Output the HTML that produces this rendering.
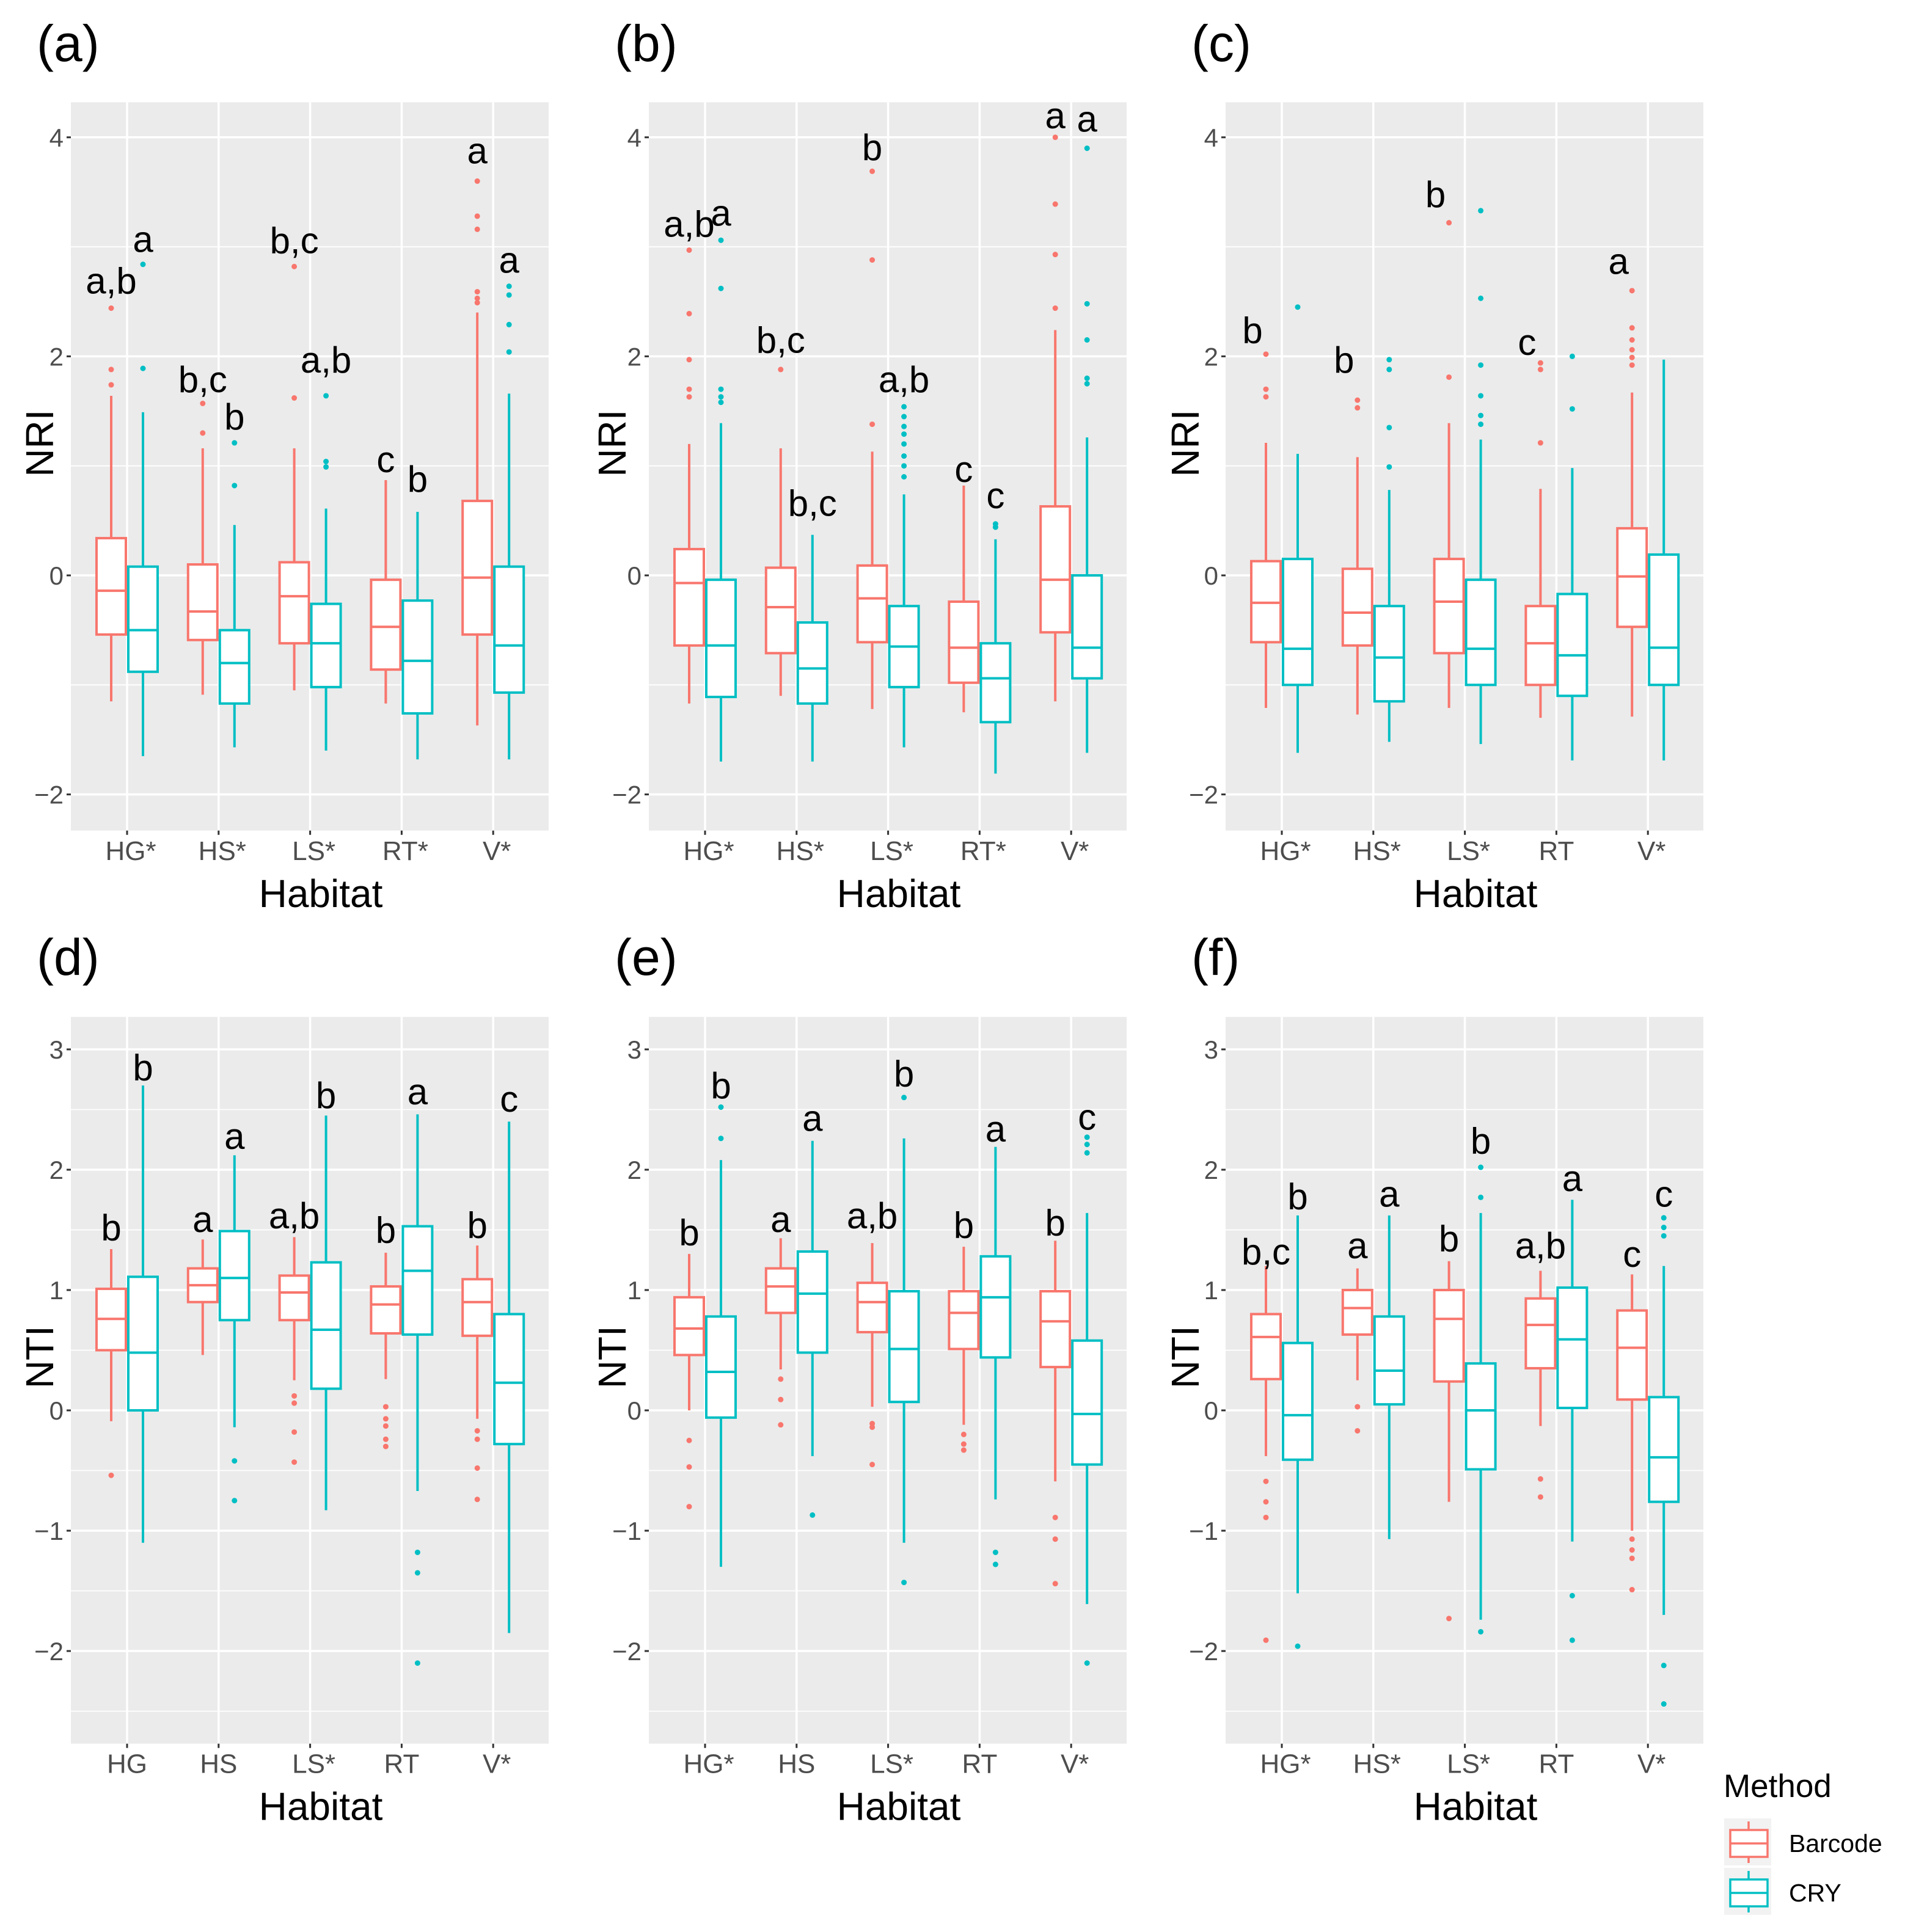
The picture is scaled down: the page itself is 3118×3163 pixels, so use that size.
<!DOCTYPE html>
<html><head><meta charset="utf-8"><style>
body{margin:0;background:#fff}
svg{display:block}
text{font-family:"Liberation Sans",Arial,sans-serif}
</style></head><body>
<svg id="fig" width="3118" height="3163" viewBox="0 0 3118 3163" xmlns="http://www.w3.org/2000/svg"></svg>
<script>
// ---------- data ----------
const catsA = ["HG*","HS*","LS*","RT*","V*"];
const catsB = ["HG*","HS*","LS*","RT*","V*"];
const catsC = ["HG*","HS*","LS*","RT","V*"];
const catsD = ["HG","HS","LS*","RT","V*"];
const catsE = ["HG*","HS","LS*","RT","V*"];
const catsF = ["HG*","HS*","LS*","RT","V*"];
const ticksTop = [-2,0,2,4];
const ticksBot = [-2,-1,0,1,2,3];
// order: HG-Barcode, HG-CRY, HS-B, HS-C, LS-B, LS-C, RT-B, RT-C, V-B, V-C
const aLo=[-1.15,-1.65,-1.09,-1.57,-1.05,-1.6,-1.17,-1.68,-1.37,-1.68];
const aQ1=[-0.54,-0.88,-0.59,-1.17,-0.62,-1.02,-0.86,-1.26,-0.54,-1.07];
const aMed=[-0.14,-0.5,-0.33,-0.8,-0.19,-0.62,-0.47,-0.78,-0.02,-0.64];
const aQ3=[0.34,0.08,0.1,-0.5,0.12,-0.26,-0.04,-0.23,0.68,0.08];
const aHi=[1.64,1.49,1.16,0.46,1.16,0.61,0.87,0.58,2.4,1.66];
const aOut=[[1.88,1.74,2.44],[1.89,2.84],[1.3,1.57],[1.21,0.82],[1.62,2.82],[1.64,1.04,0.99],[],[],[3.6,3.28,3.16,2.59,2.53,2.49],[2.04,2.29,2.56,2.64]];
const aLet=["a,b","a","b,c","b","b,c","a,b","c","b","a","a"];
const aLetV=[2.69,3.07,1.79,1.45,3.06,1.97,1.06,0.88,3.88,2.88];

const bLo=[-1.17,-1.7,-1.1,-1.7,-1.22,-1.57,-1.25,-1.81,-1.15,-1.62];
const bQ1=[-0.64,-1.11,-0.71,-1.17,-0.61,-1.02,-0.98,-1.34,-0.52,-0.94];
const bMed=[-0.07,-0.64,-0.29,-0.85,-0.21,-0.65,-0.66,-0.94,-0.04,-0.66];
const bQ3=[0.24,-0.04,0.07,-0.43,0.09,-0.28,-0.24,-0.62,0.63,0];
const bHi=[1.2,1.39,1.16,0.37,1.13,0.74,0.82,0.33,2.24,1.26];
const bOut=[[1.63,1.7,1.97,2.39,2.97],[1.58,1.7,1.63,2.62,3.06],[1.88],[],[1.38,2.88,3.69],[0.9,1.0,1.09,1.2,1.29,1.36,1.45,1.54],[],[0.47,0.44],[2.44,2.93,3.39,4.0],[1.8,1.75,2.15,2.48,3.9]];
const bLet=["a,b","a","b,c","b,c","b","a,b","c","c","a","a"];
const bLetV=[3.21,3.31,2.15,0.66,3.91,1.79,0.97,0.73,4.2,4.17];

const cLo=[-1.21,-1.62,-1.27,-1.52,-1.21,-1.54,-1.3,-1.69,-1.29,-1.69];
const cQ1=[-0.61,-1.0,-0.64,-1.15,-0.71,-1.0,-1.0,-1.1,-0.47,-1.0];
const cMed=[-0.25,-0.67,-0.34,-0.75,-0.24,-0.67,-0.62,-0.73,-0.01,-0.66];
const cQ3=[0.13,0.15,0.06,-0.28,0.15,-0.04,-0.28,-0.17,0.43,0.19];
const cHi=[1.21,1.11,1.08,0.78,1.39,1.24,0.79,0.98,1.67,1.97];
const cOut=[[1.63,1.7,2.02],[2.45],[1.6,1.53],[1.97,1.88,1.35,0.99],[1.81,3.22],[3.33,2.53,1.92,1.64,1.46,1.38],[1.21,1.88,1.94],[1.52,2.0],[1.92,1.99,2.06,2.15,2.26,2.6],[]];
const cLet=["b",null,"b",null,"b",null,"c",null,"a",null];
const cLetV=[2.24,0,1.97,0,3.48,0,2.13,0,2.87,0];

const dLo=[-0.09,-1.1,0.46,-0.14,0.25,-0.83,0.26,-0.67,-0.07,-1.85];
const dQ1=[0.5,0,0.9,0.75,0.75,0.18,0.64,0.63,0.62,-0.28];
const dMed=[0.76,0.48,1.04,1.1,0.98,0.67,0.88,1.16,0.9,0.23];
const dQ3=[1.01,1.11,1.18,1.49,1.12,1.23,1.03,1.53,1.09,0.8];
const dHi=[1.34,2.7,1.42,2.12,1.44,2.45,1.31,2.46,1.37,2.4];
const dOut=[[-0.54],[],[],[-0.42,-0.75],[0.12,0.06,-0.18,-0.43],[],[0.03,-0.07,-0.13,-0.24,-0.3],[-1.18,-1.35,-2.1],[-0.17,-0.24,-0.48,-0.74],[]];
const dLet=["b","b","a","a","a,b","b","b","a","b","c"];
const dLetV=[1.52,2.85,1.59,2.28,1.62,2.62,1.5,2.65,1.54,2.59];

const eLo=[0,-1.3,0.34,-0.38,0.03,-1.1,-0.12,-0.74,-0.59,-1.61];
const eQ1=[0.46,-0.06,0.81,0.48,0.65,0.07,0.51,0.44,0.36,-0.45];
const eMed=[0.68,0.32,1.03,0.97,0.9,0.51,0.81,0.94,0.74,-0.03];
const eQ3=[0.94,0.78,1.18,1.32,1.06,0.99,0.99,1.28,0.99,0.58];
const eHi=[1.3,2.08,1.43,2.24,1.39,2.26,1.36,2.19,1.41,1.64];
const eOut=[[-0.25,-0.47,-0.8],[2.26,2.52],[0.26,0.09,-0.12],[-0.87],[-0.11,-0.14,-0.45],[-1.43,2.6],[-0.2,-0.28,-0.33],[-1.18,-1.28],[-0.89,-1.07,-1.44],[-2.1,2.14,2.21,2.27]];
const eLet=["b","b","a","a","a,b","b","b","a","b","c"];
const eLetV=[1.48,2.7,1.59,2.43,1.62,2.8,1.54,2.34,1.56,2.44];

const fLo=[-0.38,-1.52,0.25,-1.07,-0.76,-1.74,-0.13,-1.09,-1.0,-1.7];
const fQ1=[0.26,-0.41,0.63,0.05,0.24,-0.49,0.35,0.02,0.09,-0.76];
const fMed=[0.61,-0.04,0.85,0.33,0.76,0,0.71,0.59,0.52,-0.39];
const fQ3=[0.8,0.56,1.0,0.78,1.0,0.39,0.93,1.02,0.83,0.11];
const fHi=[1.2,1.62,1.18,1.62,1.24,1.64,1.16,1.75,1.13,1.2];
const fOut=[[-0.59,-0.76,-0.89,-1.91],[-1.96],[0.03,-0.17],[],[-1.73],[-1.84,1.77,2.02],[-0.57,-0.72],[-1.54,-1.91],[-1.07,-1.16,-1.23,-1.49],[-2.12,-2.44,1.6,1.52,1.45]];
const fLet=["b,c","b","a","a","b","b","a,b","a","c","c"];
const fLetV=[1.32,1.78,1.37,1.8,1.43,2.24,1.37,1.93,1.3,1.8];

// ---------- drawing ----------
const NS="http://www.w3.org/2000/svg";
const svg=document.getElementById('fig');
const RED="#F8766D", CYAN="#00BFC4";
function mk(tag,attrs,parent){const e=document.createElementNS(NS,tag);for(const k in attrs)e.setAttribute(k,attrs[k]);(parent||svg).appendChild(e);return e;}
function txt(s,attrs,parent){const e=mk('text',attrs,parent);e.textContent=s;return e;}

const panels=[
 {id:'a',left:116,top:168,y0:942,unit:179.3,vmin:-2.33,vmax:4.32,ticks:ticksTop,minor:[-1,1,3],cats:catsA,lo:aLo,q1:aQ1,med:aMed,q3:aQ3,hi:aHi,out:aOut,let:aLet,letV:aLetV,yt:'NRI',ytx:65},
 {id:'b',left:1062,top:168,y0:942,unit:179.3,vmin:-2.33,vmax:4.32,ticks:ticksTop,minor:[-1,1,3],cats:catsB,lo:bLo,q1:bQ1,med:bMed,q3:bQ3,hi:bHi,out:bOut,let:bLet,letV:bLetV,yt:'NRI',ytx:1002},
 {id:'c',left:2006,top:168,y0:942,unit:179.3,vmin:-2.33,vmax:4.32,ticks:ticksTop,minor:[-1,1,3],cats:catsC,lo:cLo,q1:cQ1,med:cMed,q3:cQ3,hi:cHi,out:cOut,let:cLet,letV:cLetV,yt:'NRI',ytx:1940,letShift:-22},
 {id:'d',left:116,top:1664,y0:2309,unit:197,vmin:-2.77,vmax:3.27,ticks:ticksBot,minor:[-2.5,-1.5,-0.5,0.5,1.5,2.5],cats:catsD,lo:dLo,q1:dQ1,med:dMed,q3:dQ3,hi:dHi,out:dOut,let:dLet,letV:dLetV,yt:'NTI',ytx:65},
 {id:'e',left:1062,top:1664,y0:2309,unit:197,vmin:-2.77,vmax:3.27,ticks:ticksBot,minor:[-2.5,-1.5,-0.5,0.5,1.5,2.5],cats:catsE,lo:eLo,q1:eQ1,med:eMed,q3:eQ3,hi:eHi,out:eOut,let:eLet,letV:eLetV,yt:'NTI',ytx:1002},
 {id:'f',left:2006,top:1664,y0:2309,unit:197,vmin:-2.77,vmax:3.27,ticks:ticksBot,minor:[-2.5,-1.5,-0.5,0.5,1.5,2.5],cats:catsF,lo:fLo,q1:fQ1,med:fMed,q3:fQ3,hi:fHi,out:fOut,let:fLet,letV:fLetV,yt:'NTI',ytx:1940}
];
const W=782, SP=149.8, BW=52;

panels.forEach(p=>{
  const g=mk('g',{});
  
  
  const Y=v=>p.y0-v*p.unit;
  const X=i=>p.left+92+i*SP;
  const bottom=Y(p.vmin), top=Y(p.vmax);
  const bg=mk('rect',{x:p.left,y:top,width:W,height:bottom-top,fill:'#EBEBEB'},g);
  
  
  p.minor.forEach(v=>mk('line',{x1:p.left,x2:p.left+W,y1:Y(v),y2:Y(v),stroke:'#fff','stroke-width':1.8},g));
  p.ticks.forEach(v=>{
    mk('line',{x1:p.left,x2:p.left+W,y1:Y(v),y2:Y(v),stroke:'#fff','stroke-width':3.5},g);
    mk('line',{x1:p.left-7,x2:p.left,y1:Y(v),y2:Y(v),stroke:'#333','stroke-width':3},g);
    const t=txt(String(v).replace('-','\u2212'),{x:p.left-12,y:Y(v)+15,'text-anchor':'end','font-size':42,fill:'#4D4D4D'},g);
    
    
  });
  p.cats.forEach((c,i)=>{
    mk('line',{x1:X(i),x2:X(i),y1:top,y2:bottom,stroke:'#fff','stroke-width':3.5},g);
    mk('line',{x1:X(i),x2:X(i),y1:bottom,y2:bottom+7,stroke:'#333','stroke-width':3},g);
    const t=txt(c,{x:X(i)+(c.endsWith('*')?6:0),y:bottom+48,'text-anchor':'middle','font-size':44,fill:'#4D4D4D'},g);
    
    
  });
  for(let k=0;k<10;k++){
    const i=Math.floor(k/2), isR=k%2===0, col=isR?RED:CYAN;
    const cx=X(i)+(isR?-BW/2:BW/2);
    const bx=mk('g',{},g);
    
    
    mk('line',{x1:cx,x2:cx,y1:Y(p.hi[k]),y2:Y(p.q3[k]),stroke:col,'stroke-width':4},bx);
    mk('line',{x1:cx,x2:cx,y1:Y(p.q1[k]),y2:Y(p.lo[k]),stroke:col,'stroke-width':4},bx);
    mk('rect',{x:cx-BW/2+2,y:Y(p.q3[k]),width:BW-4,height:Y(p.q1[k])-Y(p.q3[k]),fill:'#fff',stroke:col,'stroke-width':4},bx);
    mk('line',{x1:cx-BW/2+2,x2:cx+BW/2-2,y1:Y(p.med[k]),y2:Y(p.med[k]),stroke:col,'stroke-width':4},bx);
    p.out[k].forEach(v=>mk('circle',{cx:cx,cy:Y(v),r:4.5,fill:col},bx));
    if(p.let[k]){
      const t=txt(p.let[k],{x:cx+(p.letShift||0),y:Y(p.letV[k])+21,'text-anchor':'middle','font-size':60,fill:'#000'},g);
      
      
    }
  }
  const pt=txt('('+p.id+')',{x:p.left-56,y:p.top-68,'font-size':84,fill:'#000'},g);
  
  
  const xt=txt('Habitat',{x:p.left+W/2+18,y:bottom+125,'text-anchor':'middle','font-size':64,fill:'#000'},g);
  
  
  const cy=(top+bottom)/2-38;
  const yt=txt(p.yt,{x:p.ytx+22,y:cy,'text-anchor':'middle','font-size':64,fill:'#000',transform:'rotate(-90 '+(p.ytx+22)+' '+cy+')'},g);
  
  
});

// legend
const lg=mk('g',{});


const lt=txt('Method',{x:2821,y:2942,'font-size':53,fill:'#000'},lg);


[["Barcode",RED,2977],["CRY",CYAN,3058]].forEach(([name,col,y])=>{
  const e=mk('g',{},lg);
  
  
  mk('rect',{x:2822,y:y,width:77,height:77,fill:'#F2F2F2'},e);
  mk('line',{x1:2862,x2:2862,y1:y+5,y2:y+73,stroke:col,'stroke-width':3.5},e);
  mk('rect',{x:2832,y:y+19,width:61,height:44,fill:'#fff',stroke:col,'stroke-width':3.5},e);
  mk('line',{x1:2832,x2:2893,y1:y+41,y2:y+41,stroke:col,'stroke-width':3.5},e);
  txt(name,{x:2928,y:y+55,'font-size':41,fill:'#000'},e);
});
</script>
</body></html>
